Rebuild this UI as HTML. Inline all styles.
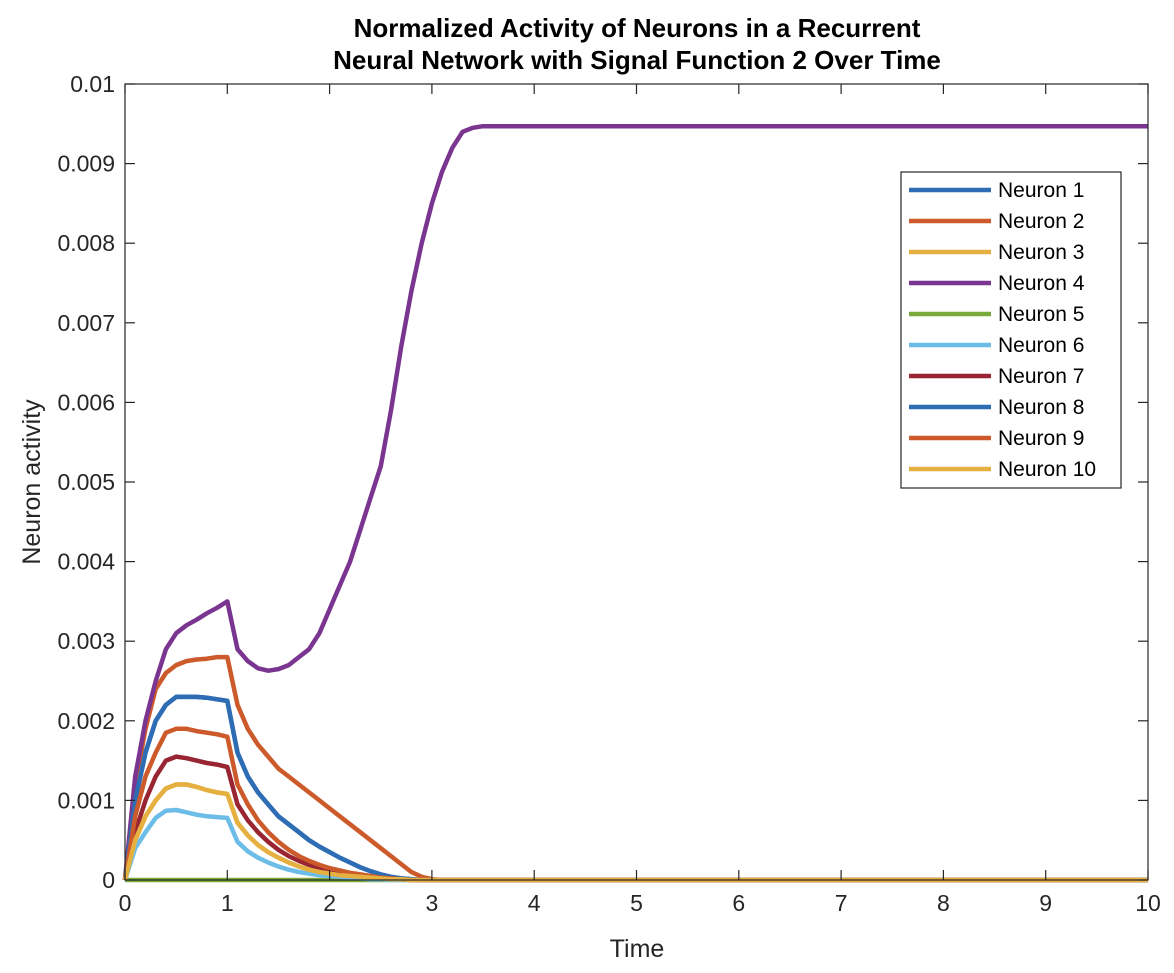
<!DOCTYPE html>
<html><head><meta charset="utf-8"><style>
body{margin:0;background:#fff;}
svg text{font-family:"Liberation Sans",Arial,sans-serif;fill:#262626;}
</style></head><body>
<svg id="chart" width="1174" height="968" xmlns="http://www.w3.org/2000/svg">
<rect width="1174" height="968" fill="#fff"/>
<text x="637" y="37" font-size="26" font-weight="bold" text-anchor="middle" style="fill:#000">Normalized Activity of Neurons in a Recurrent</text>
<text x="637" y="69" font-size="26" font-weight="bold" text-anchor="middle" style="fill:#000">Neural Network with Signal Function 2 Over Time</text>
<g id="plot"></g>
<text x="637" y="957" font-size="25" text-anchor="middle">Time</text>
<text x="40" y="482" font-size="25" text-anchor="middle" transform="rotate(-90 40 482)">Neuron activity</text>
</svg>
<script>
const times=[0,0.1,0.2,0.3,0.4,0.5,0.6,0.7,0.8,0.9,1.0,1.1,1.2,1.3,1.4,1.5,1.6,1.7,1.8,1.9,2.0,2.1,2.2,2.3,2.4,2.5,2.6,2.7,2.8,2.9,3.0,3.1,3.2,3.3,3.4,3.5,10];
const n1=[0,0.001,0.0016,0.002,0.0022,0.0023,0.0023,0.0023,0.00229,0.00227,0.00225,0.0016,0.0013,0.0011,0.00095,0.0008,0.0007,0.0006,0.0005,0.00042,0.00035,0.00028,0.00022,0.00016,0.00011,0.00007,0.00004,0.00002,0.00001,0];
const n2=[0,0.0012,0.0019,0.0024,0.0026,0.0027,0.00275,0.00277,0.00278,0.0028,0.0028,0.0022,0.0019,0.0017,0.00155,0.0014,0.0013,0.0012,0.0011,0.001,0.0009,0.0008,0.0007,0.0006,0.0005,0.0004,0.0003,0.0002,0.0001,0.00004,0.00001,0];
const n3=[0,0.0005,0.0008,0.001,0.00115,0.0012,0.0012,0.00117,0.00113,0.0011,0.00108,0.00072,0.00056,0.00044,0.00035,0.00028,0.00022,0.00017,0.00013,0.0001,0.00008,0.00006,0.00005,0.00004,0.00003,0.00002,0.00001,0.00001,0];
const n4=[0,0.0013,0.002,0.0025,0.0029,0.0031,0.0032,0.00327,0.00335,0.00342,0.0035,0.0029,0.00275,0.00266,0.00263,0.00265,0.0027,0.0028,0.0029,0.0031,0.0034,0.0037,0.004,0.0044,0.0048,0.0052,0.0059,0.0067,0.0074,0.008,0.0085,0.0089,0.0092,0.0094,0.00945,0.00947,0.00947];
const n5=[0,0];
const n6=[0,0.0004,0.0006,0.00078,0.00087,0.00088,0.00085,0.00082,0.0008,0.00079,0.00078,0.00048,0.00036,0.00028,0.00022,0.00017,0.00013,0.0001,0.00008,0.00006,0.00005,0.00004,0.00003,0.00002,0.00001,0.00001,0];
const n7=[0,0.0006,0.001,0.0013,0.0015,0.00155,0.00153,0.0015,0.00147,0.00145,0.00142,0.00095,0.00075,0.0006,0.00048,0.00038,0.0003,0.00024,0.00019,0.00015,0.00012,0.00009,0.00007,0.00005,0.00004,0.00003,0.00002,0.00001,0];
const n8=n1;
const n9=[0,0.0008,0.0013,0.0016,0.00185,0.0019,0.0019,0.00187,0.00185,0.00183,0.0018,0.0012,0.00095,0.00075,0.0006,0.00048,0.00038,0.0003,0.00024,0.00019,0.00015,0.00012,0.00009,0.00007,0.00005,0.00003,0.00002,0.00001,0];
const n10=n3;
const seriesNames=["Neuron 1","Neuron 2","Neuron 3","Neuron 4","Neuron 5","Neuron 6","Neuron 7","Neuron 8","Neuron 9","Neuron 10"];
const xTicks=[0,1,2,3,4,5,6,7,8,9,10];
const yTicks=[0,0.001,0.002,0.003,0.004,0.005,0.006,0.007,0.008,0.009,0.01];
const yTickLabels=["0","0.001","0.002","0.003","0.004","0.005","0.006","0.007","0.008","0.009","0.01"];

const series=[n1,n2,n3,n4,n5,n6,n7,n8,n9,n10];
const colors=["#2E6DB4","#CC5A2A","#E6B040","#7A3590","#7AAA3C","#6CBCE8","#992533","#2E6DB4","#CC5A2A","#E6B040"];
const L=125,R=1148,T=84,B=880;
const xs=v=>L+(v-0)/(10-0)*(R-L);
const ys=v=>B-(v-0)/(0.01-0)*(B-T);
const NS="http://www.w3.org/2000/svg";
const g=document.getElementById('plot');
function mk(tag,attrs){const e=document.createElementNS(NS,tag);for(const k in attrs)e.setAttribute(k,attrs[k]);return e;}
series.forEach((s,i)=>{
  let pts=[];
  times.forEach((t,j)=>{const v=j<s.length?s[j]:s[s.length-1];pts.push(xs(t).toFixed(1)+","+ys(v).toFixed(1));});
  const p=mk('polyline',{points:pts.join(' '),fill:'none',stroke:colors[i],'stroke-width':4.5,'stroke-linejoin':'round'});
  
  
  g.appendChild(p);
});
const box=mk('rect',{x:L,y:T,width:R-L,height:B-T,fill:'none',stroke:'#262626','stroke-width':1.2});


g.appendChild(box);
xTicks.forEach(v=>{
  const x=xs(v);
  g.appendChild(mk('line',{x1:x,y1:B,x2:x,y2:B-10,stroke:'#262626','stroke-width':1.2}));
  g.appendChild(mk('line',{x1:x,y1:T,x2:x,y2:T+10,stroke:'#262626','stroke-width':1.2}));
  const t=mk('text',{x:x,y:B+31,'font-size':23,'text-anchor':'middle'});
  
  
  t.textContent=String(v);g.appendChild(t);
});
yTicks.forEach((v,i)=>{
  const y=ys(v);
  g.appendChild(mk('line',{x1:L,y1:y,x2:L+10,y2:y,stroke:'#262626','stroke-width':1.2}));
  g.appendChild(mk('line',{x1:R,y1:y,x2:R-10,y2:y,stroke:'#262626','stroke-width':1.2}));
  const t=mk('text',{x:L-10,y:y+8,'font-size':23,'text-anchor':'end'});
  
  
  t.textContent=yTickLabels[i];g.appendChild(t);
});
const lg=mk('g',{});


lg.appendChild(mk('rect',{x:901,y:172,width:220,height:316,fill:'#fff',stroke:'#262626','stroke-width':1.2}));
seriesNames.forEach((n,i)=>{
  const y=190+i*31;
  const e=mk('g',{});
  
  
  e.appendChild(mk('line',{x1:909,y1:y,x2:991,y2:y,stroke:colors[i],'stroke-width':4.5}));
  const t=mk('text',{x:998,y:y+7,'font-size':21});
  t.style.fill='#000';
  t.textContent=n;e.appendChild(t);
  lg.appendChild(e);
});
g.appendChild(lg);
</script>
</body></html>
